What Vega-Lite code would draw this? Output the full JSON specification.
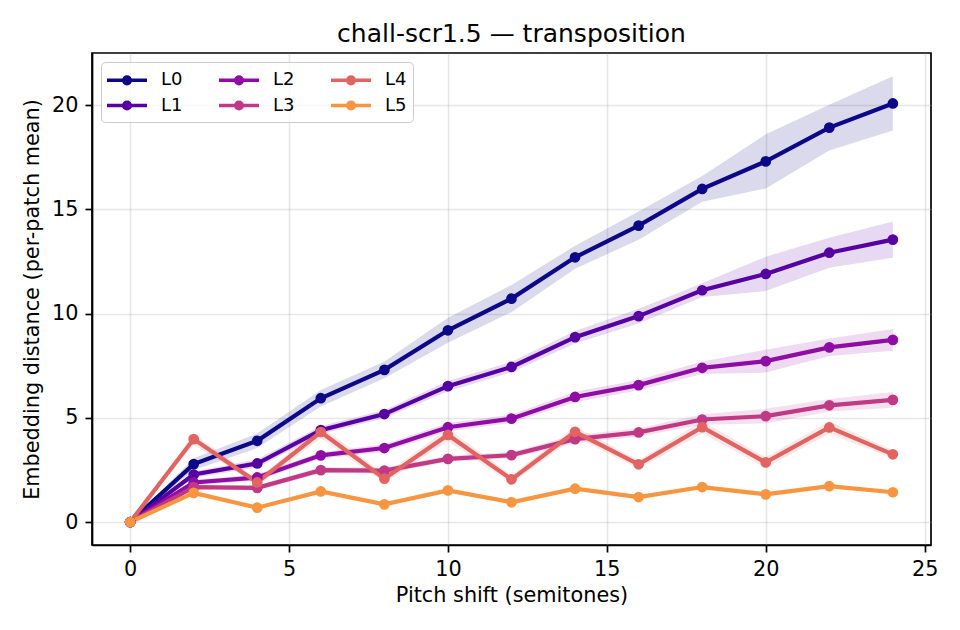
{
  "$schema": "https://vega.github.io/schema/vega-lite/v6.json",
  "description": "chall-scr1.5 transposition: embedding distance per layer vs pitch shift",
  "autosize": {"type": "none"},
  "width": 839,
  "height": 492,
  "padding": {"left": 92, "top": 53, "right": 29, "bottom": 85},
  "background": "white",
  "title": {
    "text": "chall-scr1.5 — transposition",
    "fontSize": 25,
    "fontWeight": "normal",
    "color": "black",
    "frame": "group",
    "anchor": "middle",
    "baseline": "alphabetic",
    "offset": -14
  },
  "data": {
    "values": [
      {"layer": "L0", "shift": 0, "mean": 0, "lo": 0, "hi": 0},
      {"layer": "L0", "shift": 2, "mean": 2.78, "lo": 2.5, "hi": 3.06},
      {"layer": "L0", "shift": 4, "mean": 3.9, "lo": 3.55, "hi": 4.25},
      {"layer": "L0", "shift": 6, "mean": 5.94, "lo": 5.54, "hi": 6.34},
      {"layer": "L0", "shift": 8, "mean": 7.3, "lo": 6.9, "hi": 7.7},
      {"layer": "L0", "shift": 10, "mean": 9.2, "lo": 8.6, "hi": 9.8},
      {"layer": "L0", "shift": 12, "mean": 10.72, "lo": 10.07, "hi": 11.37},
      {"layer": "L0", "shift": 14, "mean": 12.7, "lo": 12.15, "hi": 13.25},
      {"layer": "L0", "shift": 16, "mean": 14.22, "lo": 13.54, "hi": 14.9},
      {"layer": "L0", "shift": 18, "mean": 15.98, "lo": 15.36, "hi": 16.6},
      {"layer": "L0", "shift": 20, "mean": 17.3, "lo": 16.0, "hi": 18.6},
      {"layer": "L0", "shift": 22, "mean": 18.92, "lo": 17.82, "hi": 20.02},
      {"layer": "L0", "shift": 24, "mean": 20.08, "lo": 18.78, "hi": 21.39},
      {"layer": "L1", "shift": 0, "mean": 0, "lo": 0, "hi": 0},
      {"layer": "L1", "shift": 2, "mean": 2.28, "lo": 2.13, "hi": 2.43},
      {"layer": "L1", "shift": 4, "mean": 2.81, "lo": 2.61, "hi": 3.01},
      {"layer": "L1", "shift": 6, "mean": 4.41, "lo": 4.21, "hi": 4.61},
      {"layer": "L1", "shift": 8, "mean": 5.18, "lo": 4.98, "hi": 5.38},
      {"layer": "L1", "shift": 10, "mean": 6.52, "lo": 6.27, "hi": 6.77},
      {"layer": "L1", "shift": 12, "mean": 7.44, "lo": 7.19, "hi": 7.69},
      {"layer": "L1", "shift": 14, "mean": 8.87, "lo": 8.57, "hi": 9.17},
      {"layer": "L1", "shift": 16, "mean": 9.88, "lo": 9.53, "hi": 10.23},
      {"layer": "L1", "shift": 18, "mean": 11.12, "lo": 10.8, "hi": 11.46},
      {"layer": "L1", "shift": 20, "mean": 11.9, "lo": 11.08, "hi": 12.73},
      {"layer": "L1", "shift": 22, "mean": 12.92, "lo": 12.2, "hi": 13.64},
      {"layer": "L1", "shift": 24, "mean": 13.55, "lo": 12.68, "hi": 14.42},
      {"layer": "L2", "shift": 0, "mean": 0, "lo": 0, "hi": 0},
      {"layer": "L2", "shift": 2, "mean": 1.9, "lo": 1.78, "hi": 2.02},
      {"layer": "L2", "shift": 4, "mean": 2.14, "lo": 1.99, "hi": 2.29},
      {"layer": "L2", "shift": 6, "mean": 3.2, "lo": 3.05, "hi": 3.35},
      {"layer": "L2", "shift": 8, "mean": 3.55, "lo": 3.37, "hi": 3.73},
      {"layer": "L2", "shift": 10, "mean": 4.55, "lo": 4.35, "hi": 4.75},
      {"layer": "L2", "shift": 12, "mean": 4.96, "lo": 4.76, "hi": 5.16},
      {"layer": "L2", "shift": 14, "mean": 6.0, "lo": 5.75, "hi": 6.25},
      {"layer": "L2", "shift": 16, "mean": 6.57, "lo": 6.32, "hi": 6.82},
      {"layer": "L2", "shift": 18, "mean": 7.4, "lo": 7.1, "hi": 7.7},
      {"layer": "L2", "shift": 20, "mean": 7.72, "lo": 7.17, "hi": 8.27},
      {"layer": "L2", "shift": 22, "mean": 8.38, "lo": 7.96, "hi": 8.8},
      {"layer": "L2", "shift": 24, "mean": 8.74, "lo": 8.22, "hi": 9.26},
      {"layer": "L3", "shift": 0, "mean": 0, "lo": 0, "hi": 0},
      {"layer": "L3", "shift": 2, "mean": 1.68, "lo": 1.58, "hi": 1.78},
      {"layer": "L3", "shift": 4, "mean": 1.64, "lo": 1.52, "hi": 1.76},
      {"layer": "L3", "shift": 6, "mean": 2.49, "lo": 2.34, "hi": 2.64},
      {"layer": "L3", "shift": 8, "mean": 2.47, "lo": 2.32, "hi": 2.62},
      {"layer": "L3", "shift": 10, "mean": 3.03, "lo": 2.88, "hi": 3.18},
      {"layer": "L3", "shift": 12, "mean": 3.21, "lo": 3.06, "hi": 3.36},
      {"layer": "L3", "shift": 14, "mean": 3.98, "lo": 3.78, "hi": 4.18},
      {"layer": "L3", "shift": 16, "mean": 4.3, "lo": 4.1, "hi": 4.5},
      {"layer": "L3", "shift": 18, "mean": 4.92, "lo": 4.67, "hi": 5.17},
      {"layer": "L3", "shift": 20, "mean": 5.08, "lo": 4.73, "hi": 5.43},
      {"layer": "L3", "shift": 22, "mean": 5.6, "lo": 5.3, "hi": 5.9},
      {"layer": "L3", "shift": 24, "mean": 5.86, "lo": 5.48, "hi": 6.24},
      {"layer": "L4", "shift": 0, "mean": 0, "lo": 0, "hi": 0},
      {"layer": "L4", "shift": 2, "mean": 3.98, "lo": 3.73, "hi": 4.23},
      {"layer": "L4", "shift": 4, "mean": 1.9, "lo": 1.75, "hi": 2.05},
      {"layer": "L4", "shift": 6, "mean": 4.32, "lo": 4.02, "hi": 4.62},
      {"layer": "L4", "shift": 8, "mean": 2.08, "lo": 1.88, "hi": 2.28},
      {"layer": "L4", "shift": 10, "mean": 4.18, "lo": 3.88, "hi": 4.48},
      {"layer": "L4", "shift": 12, "mean": 2.05, "lo": 1.85, "hi": 2.25},
      {"layer": "L4", "shift": 14, "mean": 4.33, "lo": 4.08, "hi": 4.58},
      {"layer": "L4", "shift": 16, "mean": 2.77, "lo": 2.57, "hi": 2.97},
      {"layer": "L4", "shift": 18, "mean": 4.55, "lo": 4.25, "hi": 4.85},
      {"layer": "L4", "shift": 20, "mean": 2.86, "lo": 2.61, "hi": 3.11},
      {"layer": "L4", "shift": 22, "mean": 4.54, "lo": 4.24, "hi": 4.84},
      {"layer": "L4", "shift": 24, "mean": 3.25, "lo": 3.05, "hi": 3.45},
      {"layer": "L5", "shift": 0, "mean": 0, "lo": 0, "hi": 0},
      {"layer": "L5", "shift": 2, "mean": 1.4, "lo": 1.3, "hi": 1.5},
      {"layer": "L5", "shift": 4, "mean": 0.69, "lo": 0.61, "hi": 0.77},
      {"layer": "L5", "shift": 6, "mean": 1.47, "lo": 1.37, "hi": 1.57},
      {"layer": "L5", "shift": 8, "mean": 0.85, "lo": 0.77, "hi": 0.93},
      {"layer": "L5", "shift": 10, "mean": 1.52, "lo": 1.42, "hi": 1.62},
      {"layer": "L5", "shift": 12, "mean": 0.95, "lo": 0.87, "hi": 1.03},
      {"layer": "L5", "shift": 14, "mean": 1.6, "lo": 1.5, "hi": 1.7},
      {"layer": "L5", "shift": 16, "mean": 1.2, "lo": 1.12, "hi": 1.28},
      {"layer": "L5", "shift": 18, "mean": 1.68, "lo": 1.58, "hi": 1.78},
      {"layer": "L5", "shift": 20, "mean": 1.33, "lo": 1.23, "hi": 1.43},
      {"layer": "L5", "shift": 22, "mean": 1.72, "lo": 1.62, "hi": 1.82},
      {"layer": "L5", "shift": 24, "mean": 1.43, "lo": 1.33, "hi": 1.53}
    ]
  },
  "encoding": {
    "x": {
      "field": "shift",
      "type": "quantitative",
      "title": "Pitch shift (semitones)",
      "scale": {"domain": [-1.2, 25.2], "nice": false, "zero": false},
      "axis": {"values": [0, 5, 10, 15, 20, 25], "format": "d"}
    },
    "color": {
      "field": "layer",
      "type": "nominal",
      "scale": {
        "domain": ["L0", "L2", "L4", "L1", "L3", "L5"],
        "range": ["#0d0887", "#8f0da4", "#e16462", "#5602a3", "#bf3984", "#f89540"]
      }
    }
  },
  "layer": [
    {
      "mark": {"type": "area", "fillOpacity": 0.15, "interpolate": "linear"},
      "encoding": {
        "y": {
          "field": "lo",
          "type": "quantitative",
          "title": "Embedding distance (per-patch mean)",
          "scale": {"domain": [-1.1, 22.5], "nice": false, "zero": false},
          "axis": {"values": [0, 5, 10, 15, 20], "format": "d"}
        },
        "y2": {"field": "hi"}
      }
    },
    {
      "mark": {"type": "line", "strokeWidth": 4.2},
      "encoding": {
        "y": {"field": "mean", "type": "quantitative"},
        "color": {
          "field": "layer",
          "type": "nominal",
          "legend": {
            "title": null,
            "orient": "none",
            "legendX": 9,
            "legendY": 9,
            "columns": 3,
            "direction": "horizontal",
            "symbolType": "M-1.2,0H2.8M0.47,0A0.33,0.33,0,1,1,1.13,0A0.33,0.33,0,1,1,0.47,0Z",
            "symbolSize": 400,
            "symbolStrokeWidth": 3.5,
            "labelFontSize": 18,
            "labelOffset": 30,
            "columnPadding": 29,
            "rowPadding": 2.5,
            "padding": 6,
            "fillColor": "rgba(255,255,255,0.8)",
            "strokeColor": "#cccccc",
            "cornerRadius": 4,
            "encode": {
              "symbols": {
                "update": {
                  "fill": {"scale": "color", "field": "value"},
                  "stroke": {"scale": "color", "field": "value"},
                  "fillOpacity": {"value": 1},
                  "opacity": {"value": 1}
                }
              }
            }
          }
        }
      }
    },
    {
      "mark": {"type": "point", "filled": true, "size": 115, "opacity": 1},
      "encoding": {
        "y": {"field": "mean", "type": "quantitative"}
      }
    }
  ],
  "config": {
    "font": "DejaVu Sans",
    "view": {"stroke": "black", "strokeWidth": 1.7},
    "axis": {
      "domainColor": "black",
      "domainWidth": 1.7,
      "tickColor": "black",
      "tickWidth": 1.7,
      "tickSize": 7,
      "labelPadding": 7,
      "labelFontSize": 20.8,
      "labelColor": "black",
      "titleFontSize": 20.8,
      "titleFontWeight": "normal",
      "titleColor": "black",
      "gridColor": "#b0b0b0",
      "gridOpacity": 0.3,
      "gridWidth": 1.6,
      "labelFlush": false,
      "labelOverlap": false
    },
    "axisX": {"titlePadding": 7},
    "axisY": {"titlePadding": 9},
    "legend": {"labelColor": "black"}
  }
}
